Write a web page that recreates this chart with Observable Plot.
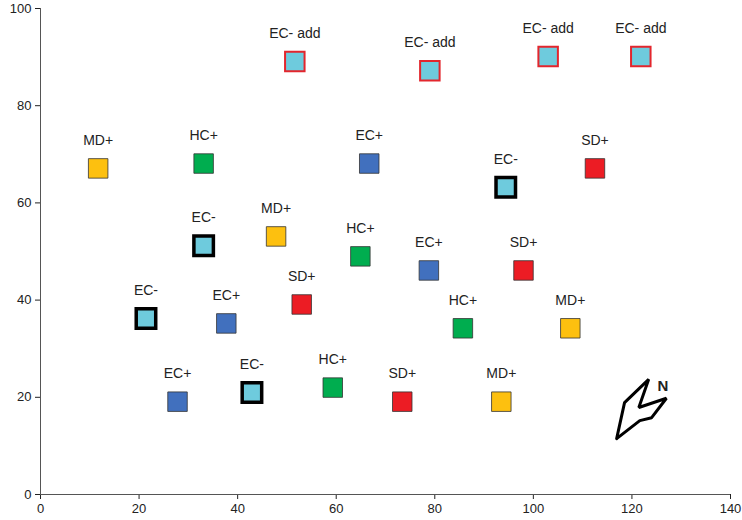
<!DOCTYPE html>
<html>
<head>
<meta charset="utf-8">
<script src="https://cdn.jsdelivr.net/npm/d3@7"></script>
<script src="https://cdn.jsdelivr.net/npm/@observablehq/plot@0.6"></script>
<style>
  body { margin: 0; background: #fff; font-family: "Liberation Sans", Arial, sans-serif; }
</style>
</head>
<body>
<div id="chart"></div>
<script>
const labels = ["EC- add", "EC- add", "EC- add", "EC- add",
  "MD+", "HC+", "EC+", "EC-", "SD+",
  "EC-", "MD+", "HC+", "EC+", "SD+",
  "EC-", "EC+", "SD+", "HC+", "MD+",
  "EC+", "EC-", "HC+", "SD+", "MD+"];
const xs = [51.6, 79, 103, 121.8,
  11.7, 33.1, 66.7, 94.4, 112.5,
  33.1, 47.8, 64.9, 78.8, 98,
  21.4, 37.7, 53, 85.7, 107.5,
  27.8, 42.9, 59.3, 73.4, 93.5];
const ys = [89.1, 87.2, 90.1, 90.1,
  67.1, 68.1, 68.1, 63.2, 67.1,
  51.2, 53.1, 49, 46.1, 46.1,
  36.2, 35.2, 39.1, 34.2, 34.2,
  19.1, 21, 22, 19.1, 19.1];

// north arrow outline and letter position
const arrowX = [116.9, 118.5, 123.4, 121.4, 127.0, 124.0, 121.6, 116.9];
const arrowY = [11.5, 18.9, 23.7, 17.9, 19.8, 15.8, 15.2, 11.5];
const northLabel = [{x: 125.2, y: 22.3, t: "N"}];

const fills = {"EC- add": "#6ecbdd", "EC-": "#6ecbdd", "EC+": "#4170be", "HC+": "#00ad4f", "SD+": "#ec1c24", "MD+": "#fdc00f"};
const strokes = {"EC- add": "#e3262d", "EC-": "#000"};
const widths = {"EC- add": 2, "EC-": 3.5};

const points = labels.map((l, i) => ({label: l, x: xs[i], y: ys[i]}));
const arrow = arrowX.map((x, i) => ({x, y: arrowY[i]}));

const chart = Plot.plot({
  width: 742,
  height: 520,
  marginTop: 8,
  marginRight: 12,
  marginBottom: 26,
  marginLeft: 40,
  style: {fontFamily: "Liberation Sans, Arial, sans-serif", fontSize: "13px", color: "#222", overflow: "visible"},
  x: {domain: [0, 140], ticks: d3.range(0, 141, 20), label: null, tickSize: 5},
  y: {domain: [0, 100], ticks: d3.range(0, 101, 20), label: null, tickSize: 5},
  marks: [
    Plot.ruleX([0], {stroke: "#555"}),
    Plot.ruleY([0], {stroke: "#555"}),
    Plot.dot(points, {
      x: "x", y: "y", symbol: "square", r: 11,
      fill: d => fills[d.label],
      stroke: d => strokes[d.label] ?? "#333",
      strokeWidth: d => widths[d.label] ?? 0.8
    }),
    Plot.text(points, {x: "x", y: "y", text: "label", dy: -28, fontSize: 14, fill: "#222"}),
    Plot.line(arrow, {x: "x", y: "y", stroke: "#000", strokeWidth: 3, strokeLinejoin: "miter"}),
    Plot.text(northLabel, {x: "x", y: "y", text: "t", fontSize: 15, fontWeight: "bold", textAnchor: "start"})
  ]
});
document.getElementById("chart").append(chart);
</script>
</body>
</html>
